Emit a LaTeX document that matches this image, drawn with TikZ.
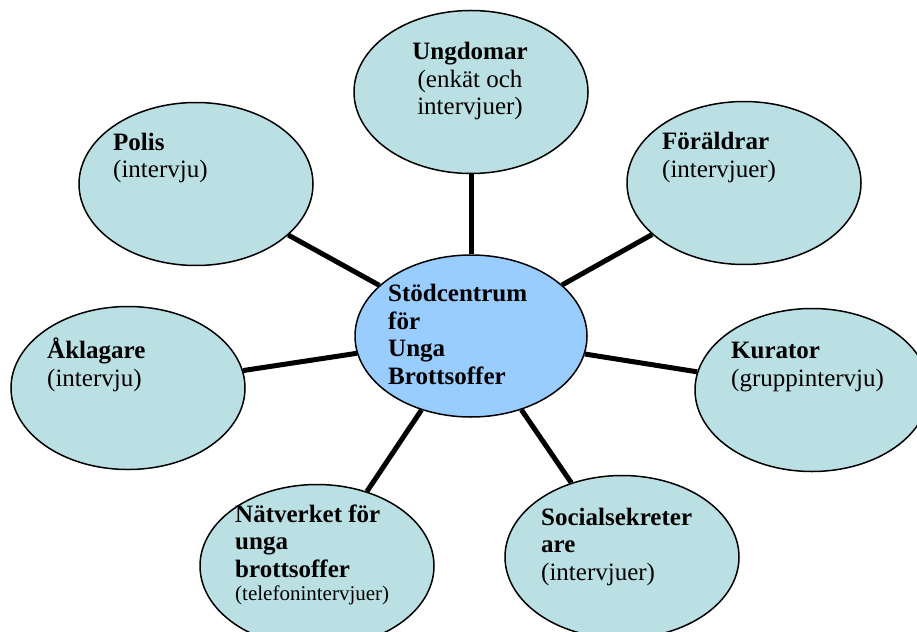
\documentclass[tikz,border=0pt]{standalone}
\usepackage{fontspec}
\setmainfont{Liberation Serif}
\usetikzlibrary{shapes.geometric,backgrounds}
\definecolor{outerfill}{RGB}{186,224,228}
\definecolor{centerfill}{RGB}{153,204,255}
\tikzset{
  bubble/.style={ellipse, draw=black, line width=1.5pt, fill=outerfill,
    minimum width=234pt, minimum height=163pt, inner sep=0pt},
  hub/.style={bubble, fill=centerfill, minimum width=232pt, minimum height=162pt},
  conn/.style={line width=5pt, draw=black},
  lbl/.style={anchor=base west, inner sep=0pt, align=left,
    font=\fontsize{25}{27.5}\selectfont},
  lblc/.style={lbl, anchor=base, align=center},
  small/.style={anchor=base west, inner sep=0pt, font=\fontsize{21}{24}\selectfont}
}
\begin{document}
\begin{tikzpicture}[x=1pt,y=-1pt]
\useasboundingbox (0,0) rectangle (917,631);
\clip (0,0) rectangle (917,631);
% ellipses
\node[hub]    (C) at (471,336) {};
\node[bubble] (U) at (471,92)  {};
\node[bubble] (P) at (196,184) {};
\node[bubble] (F) at (744,183) {};
\node[bubble] (A) at (128,388) {};
\node[bubble] (K) at (812,390) {};
\node[bubble] (N) at (317,566) {};
\node[bubble] (S) at (622,557) {};
% connectors
\begin{pgfonlayer}{background}
\draw[conn] (C) -- (U);
\draw[conn] (C) -- (P);
\draw[conn] (C) -- (F);
\draw[conn] (C) -- (A);
\draw[conn] (C) -- (K);
\draw[conn] (C) -- (N);
\draw[conn] (C) -- (S);
\end{pgfonlayer}
% texts (base anchor = baseline of the last line)
\node[lbl]  (tC) at (388,384) {\textbf{Stödcentrum}\\\textbf{för}\\\textbf{Unga}\\\textbf{Brottsoffer}};
\node[lblc] (tU) at (470,115) {\textbf{Ungdomar}\\(enkät och\\intervjuer)};
\node[lbl]  (tP) at (113,178) {\textbf{Polis}\\(intervju)};
\node[lbl]  (tF) at (662,177) {\textbf{Föräldrar}\\(intervjuer)};
\node[lbl]  (tA) at (47,386)  {\textbf{Åklagare}\\(intervju)};
\node[lbl]  (tK) at (731,386) {\textbf{Kurator}\\(gruppintervju)};
\node[lbl]  (tS) at (541,580) {\textbf{Socialsekreter}\\\textbf{are}\\(intervjuer)};
\node[lbl]  (tN) at (235,577) {\textbf{Nätverket för}\\\textbf{unga}\\\textbf{brottsoffer}};
\node[small] (tN2) at (235,600) {(telefonintervjuer)};
\end{tikzpicture}
\end{document}
